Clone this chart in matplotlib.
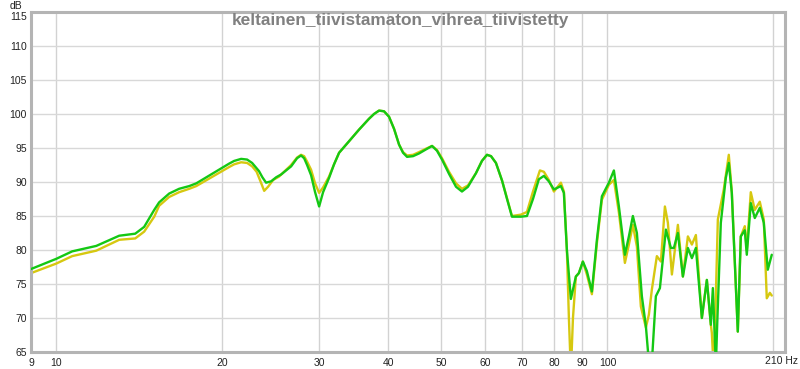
import matplotlib
matplotlib.use("Agg")
import matplotlib.pyplot as plt
from matplotlib.transforms import ScaledTranslation

title = "keltainen_tiivistamaton_vihrea_tiivistetty"

green_f = [9.0, 10.0, 10.69, 11.82, 13.01, 13.91, 14.44, 15.06, 15.37, 16.03, 16.71, 17.43, 17.95,
           20.59, 21.03, 21.65, 22.2, 22.67, 23.33, 23.66, 24.03, 24.54, 25.07, 25.58, 26.68,
           27.35, 27.81, 28.17, 28.52, 29.0, 29.49, 29.99, 30.49, 31.26, 31.92, 32.60,
           33.99, 35.43, 36.94, 37.72, 38.52, 39.33, 40.16, 41.02, 41.88, 42.58, 43.30, 44.4,
           45.53, 46.88, 48.07, 49.07, 50.11, 51.6, 53.13, 54.47, 55.85, 57.75, 59.21, 60.46,
           61.5, 62.78, 64.4, 65.7, 67.12, 69.69, 71.46, 73.28, 75.1, 76.70, 78.3, 79.97,
           82.34, 83.38, 84.43, 85.85, 87.66,
           88.77, 90.26, 91.78, 93.73, 95.71, 97.73, 100.63, 102.75, 104.92, 107.58,
           109.39, 111.23, 113.11, 115.49, 117.44, 118.92, 120.42, 122.44, 124.53,
           127.68, 130.38, 132.02, 134.24, 137.07, 139.97, 142.33, 144.72, 148.38,
           151.51, 154.06, 155.36, 157.32, 158.30, 160.61, 163.99, 166.06, 168.15,
           172.42, 174.59, 177.53, 179.02, 182.03, 185.10, 189.01, 192.19, 195.43, 198.7]
green_db = [77.2, 78.7, 79.8, 80.6, 82.1, 82.4, 83.4, 85.9, 87.0, 88.3, 89.0, 89.4, 89.8,
            92.7, 93.1, 93.4, 93.3, 92.8, 91.6, 90.7, 89.9, 90.1, 90.7, 91.1, 92.3,
            93.5, 93.9, 93.5, 92.5, 91.0, 88.5, 86.4, 88.5, 90.6, 92.6, 94.3,
            96.0, 97.7, 99.3, 100.0, 100.5, 100.4, 99.6, 97.8, 95.5, 94.3, 93.7, 93.8,
            94.2, 94.8, 95.3, 94.6, 93.3, 91.2, 89.3, 88.6, 89.3, 91.3, 93.1, 94.0,
            93.8, 92.8, 90.2, 87.6, 84.9, 84.9, 85.0, 87.5, 90.4, 90.9, 90.1, 88.9,
            89.4, 88.4, 80.0, 72.8, 76.1,
            76.6, 78.3, 76.9, 73.9, 81.5, 87.9, 89.9, 91.7, 86.4, 79.3,
            82.0, 85.0, 82.5, 73.2, 68.8, 63.5, 63.5, 73.2, 74.4,
            83.0, 80.3, 80.3, 82.5, 76.1, 80.3, 78.8, 80.3, 70.0,
            75.6, 69.0, 74.4, 63.0, 69.7, 84.0, 90.6, 92.8, 88.4,
            68.0, 82.0, 82.9, 79.3, 86.9, 84.7, 86.2, 84.0, 77.1, 79.3]

yellow_f = [9.0, 10.0, 10.69, 11.82, 13.01, 13.91, 14.44, 15.06, 15.37, 16.03, 16.71, 17.43, 17.95,
            20.59, 21.03, 21.65, 22.2, 22.67, 23.1, 23.5, 23.84, 24.23, 24.75, 25.37, 26.68,
            27.35, 27.81, 28.17, 28.52, 29.0, 29.49, 29.99, 30.49, 31.26, 31.92, 32.60,
            33.99, 35.43, 36.94, 37.72, 38.52, 39.33, 40.16, 41.02, 41.88, 42.58, 43.30, 44.4,
            45.53, 46.88, 48.07, 49.07, 50.11, 51.6, 53.13, 54.47, 55.85, 57.75, 59.21, 60.46,
            61.5, 62.78, 64.4, 65.7, 67.12, 69.69, 71.46, 73.28, 75.43, 76.70, 78.3, 79.97,
            82.34, 83.38, 84.43, 85.14, 85.85, 86.6, 87.66, 88.77, 90.26, 91.78, 93.73, 95.71,
            97.73, 100.63, 102.75, 104.92, 107.58, 109.39, 111.23, 113.11, 115.0, 117.44,
            118.92, 120.42, 122.95, 125.05, 127.15, 128.75, 130.92, 134.24, 137.07, 139.97,
            142.33, 144.72, 148.38, 151.51, 154.06, 154.7, 156.0, 158.63, 162.6, 166.06,
            168.15, 172.42, 174.59, 177.53, 179.02, 182.03, 185.10, 189.01, 192.19, 194.6,
            197.1, 198.7]
yellow_db = [76.6, 78.0, 79.1, 79.9, 81.5, 81.7, 82.7, 84.9, 86.5, 87.8, 88.5, 89.0, 89.4,
             92.2, 92.6, 92.9, 92.8, 92.3, 91.5, 90.0, 88.7, 89.3, 90.3, 90.8, 92.5,
             93.6, 94.0, 93.8, 93.0, 91.8, 89.8, 88.4, 89.2, 90.8, 92.6, 94.3,
             96.0, 97.7, 99.3, 100.0, 100.5, 100.4, 99.6, 97.8, 95.5, 94.4, 93.9, 94.0,
             94.4, 94.9, 95.3, 94.7, 93.5, 91.5, 89.8, 89.0, 89.5, 91.3, 93.1, 94.0,
             93.8, 92.8, 90.2, 87.7, 85.0, 85.2, 85.6, 88.6, 91.7, 91.5, 90.3, 88.6,
             89.9, 88.6, 80.0, 70.0, 62.0, 70.0, 76.1, 76.6, 78.3, 76.4, 73.5, 81.0,
             87.4, 89.6, 90.3, 85.5, 78.1, 80.8, 83.7, 80.5, 71.7, 68.6,
             70.5, 74.2, 79.1, 78.3, 86.4, 84.0, 76.4, 83.7, 76.1, 82.0,
             80.8, 82.2, 70.0, 75.6, 69.0, 67.8, 62.0, 84.5, 88.9, 94.0,
             88.6, 68.0, 82.0, 83.5, 80.0, 88.5, 85.9, 87.1, 84.5, 72.9,
             73.7, 73.3]

x_ticks = [9, 10, 20, 30, 40, 50, 60, 70, 80, 90, 100]
x_grid = [10, 20, 30, 40, 50, 60, 70, 80, 90, 100, 200]
y_ticks = [65, 70, 75, 80, 85, 90, 95, 100, 105, 110, 115]

plt.rcParams['font.family'] = ['Liberation Sans', 'DejaVu Sans']

fig = plt.figure(figsize=(8.0, 3.69), dpi=100)
ax = fig.add_axes([31/800, 1 - 352/369, (785 - 31)/800, (352 - 12)/369])
ax.set_xscale('log')
ax.set_xlim(9, 210)
ax.set_ylim(65, 115)

for g in x_grid:
    ax.axvline(g, color='#d2d2d2', lw=1.0, zorder=0)
for yv in y_ticks:
    ax.axhline(yv, color='#d8d8d8', lw=1.0, zorder=0)

ax.plot(yellow_f, yellow_db, color='#d6c810', lw=1.7, zorder=2,
        solid_joinstyle='round', solid_capstyle='round')
ax.plot(green_f, green_db, color='#14c814', lw=1.7, zorder=3,
        solid_joinstyle='round', solid_capstyle='round')

ax.xaxis.set_minor_locator(matplotlib.ticker.NullLocator())
ax.set_xticks(x_ticks)
ax.set_xticklabels([str(v) for v in x_ticks])
ax.set_yticks(y_ticks)
ax.set_yticklabels([str(v) for v in y_ticks])
ax.tick_params(axis='both', length=0, labelsize=7.5, colors='#222222')
ax.tick_params(axis='x', pad=4)
ax.tick_params(axis='y', pad=3)

# shift the top y label down a little so it stays clear of "dB"
top_lbl = ax.get_yticklabels()[-1]
top_lbl.set_transform(top_lbl.get_transform() + ScaledTranslation(0, -3/72, fig.dpi_scale_trans))

for side, sp in ax.spines.items():
    sp.set_color('#b4b4b4')
    sp.set_linewidth(2.2)

fig.text(798/800, 1 - 356/369, "210 Hz", ha='right', va='top',
         fontsize=7.5, color='#222222')
fig.text(16/800, 1 - 1/369, "dB", ha='center', va='top',
         fontsize=7.5, color='#222222')

fig.text(0.5, 1 - 20/369, title, ha='center', va='center',
         fontsize=12.4, fontweight='bold', color='#808080')

fig.savefig('out.png', dpi=100)
